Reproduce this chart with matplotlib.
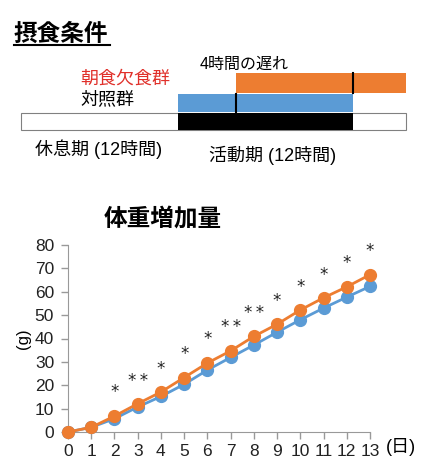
import matplotlib.pyplot as plt

# ==========================================
# Data
# ==========================================

days = list(range(14))

control = [0, 2.0, 5.7, 10.7, 15.2, 20.4, 26.5, 31.9, 37.2, 42.7, 48.0, 53.0, 57.7, 62.3]
skip_breakfast = [0, 2.0, 6.8, 12.1, 17.1, 23.3, 29.5, 34.7, 40.9, 46.1, 52.2, 57.4, 62.1, 67.3]

star_labels = ["", "", "*", "**", "*", "*", "*", "**", "**", "*", "*", "*", "*", "*"]
star_y = [0, 0, 16.9, 21.9, 27.0, 33.3, 39.7, 45.0, 50.8, 56.2, 61.9, 67.2, 72.2, 77.4]

# feeding schedule (hours, active phase starts at 0)
rest_span = (-10.8, 15.6)
active_span = (0, 12)
control_span = (0, 12)
skip_span = (4, 15.6)
delay_h = 4

ORANGE = "#ED7D31"
BLUE = "#5B9BD5"
JP = ["Liberation Sans", "Noto Sans CJK JP", "DejaVu Sans"]

plt.rcParams["font.family"] = JP

fig = plt.figure(figsize=(4.36, 4.75), dpi=100)
W, H = 436, 475


def fx(px):
    return px / W


def fy(py):
    return 1 - py / H


# ==========================================
# Feeding condition diagram
# ==========================================

px_per_h = 175 / 12
x0 = 178
ax_d = fig.add_axes([0, fy(180), 1, 180 / H])
ax_d.set_xlim(-x0 / px_per_h, (W - x0) / px_per_h)
ax_d.set_ylim(180, 0)
ax_d.axis("off")

ax_d.barh(121.5, rest_span[1] - rest_span[0], left=rest_span[0], height=17,
          color="white", edgecolor="#808080", linewidth=0.8)
ax_d.barh(121.5, active_span[1] - active_span[0], left=active_span[0], height=17,
          color="black")
ax_d.barh(103, control_span[1] - control_span[0], left=control_span[0], height=18,
          color=BLUE)
ax_d.barh(83, skip_span[1] - skip_span[0], left=skip_span[0], height=20,
          color=ORANGE)
ax_d.plot([delay_h, delay_h], [94, 112], color="black", lw=1.5)
ax_d.plot([active_span[1], active_span[1]], [73, 93], color="black", lw=1.5)

fig.text(fx(13), fy(34), "摂食条件", fontsize=17, fontweight="bold",
         va="center", ha="left")
fig.add_artist(plt.Line2D([fx(14), fx(110)], [fy(45), fy(45)],
                          color="black", lw=1.5))
fig.text(fx(80), fy(79), "朝食欠食群", fontsize=13, color="#E0302A",
         va="center", ha="left")
fig.text(fx(80), fy(100), "対照群", fontsize=13, va="center", ha="left")
fig.text(fx(200), fy(64), "4時間の遅れ", fontsize=11.5, va="center", ha="left")
fig.text(fx(35), fy(149), "休息期 (12時間)", fontsize=13, va="center", ha="left")
fig.text(fx(209), fy(155), "活動期 (12時間)", fontsize=13, va="center", ha="left")

# ==========================================
# Body weight gain line chart
# ==========================================

ax = fig.add_axes([fx(68), fy(432), fx(370) - fx(68), (432 - 245) / H])

ax.plot(days, control, color=BLUE, lw=2, marker="o", markersize=8.5,
        clip_on=False, zorder=3)
ax.plot(days, skip_breakfast, color=ORANGE, lw=2, marker="o", markersize=8.5,
        clip_on=False, zorder=4)

for d, lab, yv in zip(days, star_labels, star_y):
    if lab:
        ax.text(d, yv, "\u2009".join(lab), ha="center", va="center",
                fontsize=12, family="DejaVu Sans", color="#222222")

ax.set_xlim(0, 13)
ax.set_ylim(0, 80)
ax.set_xticks(days)
ax.set_yticks(range(0, 81, 10))
ax.tick_params(labelsize=12.5, colors="#999999", labelcolor="#222222",
               length=5, width=1)
ax.tick_params(axis="y", pad=5)
ax.tick_params(axis="x", pad=4)
for side in ["top", "right"]:
    ax.spines[side].set_visible(False)
for side in ["left", "bottom"]:
    ax.spines[side].set_color("#999999")

ax.set_ylabel("(g)", fontsize=12, labelpad=3)
fig.text(fx(386), fy(447), "(日)", fontsize=13, va="center", ha="left")
fig.text(fx(163), fy(219), "体重増加量", fontsize=17, fontweight="bold",
         va="center", ha="center")

fig.savefig("out.png", dpi=100)
